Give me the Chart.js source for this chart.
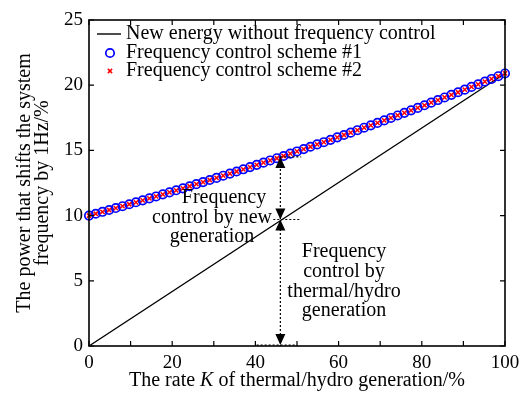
<!DOCTYPE html>
<html>
<head>
<meta charset="utf-8">
<script src="https://cdn.jsdelivr.net/npm/chart.js@4/dist/chart.umd.min.js"></script>
<style>
  html, body { margin: 0; padding: 0; background: #fff; }
  #wrap { width: 528px; height: 394px; }
</style>
</head>
<body>
<div id="wrap"><canvas id="c" width="528" height="394"></canvas></div>
<script>
// Share K of thermal/hydro generation (%)
const rateK = [0, 1.61, 3.23, 4.84, 6.45, 8.06, 9.68, 11.29, 12.90, 14.52, 16.13, 17.74, 19.35, 20.97,
  22.58, 24.19, 25.81, 27.42, 29.03, 30.65, 32.26, 33.87, 35.48, 37.10, 38.71, 40.32, 41.94, 43.55,
  45.16, 46.77, 48.39, 50.00, 51.61, 53.23, 54.84, 56.45, 58.06, 59.68, 61.29, 62.90, 64.52, 66.13,
  67.74, 69.35, 70.97, 72.58, 74.19, 75.81, 77.42, 79.03, 80.65, 82.26, 83.87, 85.48, 87.10, 88.71,
  90.32, 91.94, 93.55, 95.16, 96.77, 98.39, 100];

// Power that shifts the system frequency by 1 Hz (%), scheme #1
const scheme1Power = [10.00, 10.14, 10.29, 10.43, 10.58, 10.72, 10.87, 11.02, 11.17, 11.32, 11.47, 11.63,
  11.78, 11.94, 12.09, 12.25, 12.41, 12.57, 12.73, 12.89, 13.06, 13.22, 13.38, 13.55, 13.72, 13.89,
  14.06, 14.23, 14.40, 14.57, 14.75, 14.92, 15.10, 15.28, 15.46, 15.63, 15.81, 16.00, 16.18, 16.36,
  16.55, 16.74, 16.92, 17.11, 17.30, 17.49, 17.68, 17.88, 18.07, 18.26, 18.46, 18.66, 18.86, 19.06,
  19.26, 19.46, 19.66, 19.87, 20.07, 20.28, 20.48, 20.69, 20.90];

// Scheme #2 (coincides with scheme #1)
const scheme2Power = [10.00, 10.14, 10.29, 10.43, 10.58, 10.72, 10.87, 11.02, 11.17, 11.32, 11.47, 11.63,
  11.78, 11.94, 12.09, 12.25, 12.41, 12.57, 12.73, 12.89, 13.06, 13.22, 13.38, 13.55, 13.72, 13.89,
  14.06, 14.23, 14.40, 14.57, 14.75, 14.92, 15.10, 15.28, 15.46, 15.63, 15.81, 16.00, 16.18, 16.36,
  16.55, 16.74, 16.92, 17.11, 17.30, 17.49, 17.68, 17.88, 18.07, 18.26, 18.46, 18.66, 18.86, 19.06,
  19.26, 19.46, 19.66, 19.87, 20.07, 20.28, 20.48, 20.69, 20.90];

// New energy without frequency control
const noControlK = [0, 100];
const noControlPower = [0, 20.9];

// Axis ticks
const xTickLabels = [0, 20, 40, 60, 80, 100];
const yTickLabels = [0, 5, 10, 15, 20, 25];

// Marked split at K = 46 %
const splitK = 46;
const splitUpper = 14.5;
const splitLower = 9.7;

const SERIF = '"Liberation Serif", "Times New Roman", serif';

function pairs(xs, ys) { return xs.map((x, i) => ({ x: x, y: ys[i] })); }

const overlay = {
  id: 'overlay',
  afterDraw(chart) {
    const ctx = chart.ctx;
    const a = chart.chartArea;
    const xs = chart.scales.x, ys = chart.scales.y;
    const px = v => xs.getPixelForValue(v);
    const py = v => ys.getPixelForValue(v);
    ctx.save();

    // frame
    ctx.strokeStyle = '#000';
    ctx.lineWidth = 1.6;
    ctx.strokeRect(a.left, a.top, a.right - a.left, a.bottom - a.top);

    // inward ticks on all four sides
    ctx.lineWidth = 1.2;
    ctx.beginPath();
    xs.ticks.forEach(t => {
      const x = px(t.value);
      ctx.moveTo(x, a.bottom); ctx.lineTo(x, a.bottom - 5);
      ctx.moveTo(x, a.top); ctx.lineTo(x, a.top + 5);
    });
    ys.ticks.forEach(t => {
      const y = py(t.value);
      ctx.moveTo(a.left, y); ctx.lineTo(a.left + 5, y);
      ctx.moveTo(a.right, y); ctx.lineTo(a.right - 5, y);
    });
    ctx.stroke();

    // dotted guides at the split
    const sx = px(splitK);
    ctx.setLineDash([2, 2]);
    ctx.lineWidth = 1.2;
    ctx.beginPath();
    ctx.moveTo(sx, py(splitUpper)); ctx.lineTo(sx, py(0));
    ctx.moveTo(sx, py(splitUpper)); ctx.lineTo(px(51), py(splitUpper));
    ctx.moveTo(px(44.3), py(splitLower)); ctx.lineTo(px(51), py(splitLower));
    ctx.moveTo(px(40.3), py(0) - 1); ctx.lineTo(px(50), py(0) - 1);
    ctx.stroke();
    ctx.setLineDash([]);

    // arrowheads
    function head(x, tipY, dir) { // dir -1: points up, +1: points down
      ctx.beginPath();
      ctx.moveTo(x, tipY);
      ctx.lineTo(x - 5, tipY - dir * 11);
      ctx.lineTo(x + 5, tipY - dir * 11);
      ctx.closePath();
      ctx.fillStyle = '#000';
      ctx.fill();
    }
    head(sx, py(splitUpper), -1);
    head(sx, py(splitLower), 1);
    head(sx, py(splitLower), -1);
    head(sx, py(0) - 1, 1);

    // region labels
    ctx.fillStyle = '#000';
    ctx.font = '20px ' + SERIF;
    ctx.textAlign = 'center';
    ctx.textBaseline = 'middle';
    [['Frequency', 224, 198], ['control by new', 212, 218], ['generation', 212, 237]]
      .forEach(([t, x, y]) => ctx.fillText(t, x, y));
    [['Frequency', 344, 252], ['control by', 344, 272], ['thermal/hydro', 344, 292], ['generation', 344, 311]]
      .forEach(([t, x, y]) => ctx.fillText(t, x, y));

    // legend
    const ds = chart.data.datasets;
    const lx = a.left + 8, rows = [34, 53, 71];
    ctx.textAlign = 'left';
    ds.forEach((d, i) => {
      const y = rows[i];
      ctx.strokeStyle = d.borderColor;
      if (d.showLine) {
        ctx.lineWidth = 1.4;
        ctx.beginPath(); ctx.moveTo(lx, y); ctx.lineTo(lx + 24, y); ctx.stroke();
      } else {
        ctx.lineWidth = d.borderWidth;
        ctx.beginPath();
        const cx = lx + 13, r = d.pointRadius;
        if (d.pointStyle === 'circle') {
          ctx.arc(cx, y, r, 0, Math.PI * 2);
        } else {
          const s = r * Math.SQRT1_2;
          ctx.moveTo(cx - s, y - s); ctx.lineTo(cx + s, y + s);
          ctx.moveTo(cx + s, y - s); ctx.lineTo(cx - s, y + s);
        }
        ctx.stroke();
      }
      ctx.fillStyle = '#000';
      ctx.font = '20px ' + SERIF;
      ctx.fillText(d.label, lx + 29, y);
    });

    // x axis title with italic K
    const cx = (a.left + a.right) / 2, ty = 381;
    const p1 = 'The rate ', p2 = 'K', p3 = ' of thermal/hydro generation/%';
    ctx.font = '20px ' + SERIF;
    const w1 = ctx.measureText(p1).width, w3 = ctx.measureText(p3).width;
    ctx.font = 'italic 20px ' + SERIF;
    const w2 = ctx.measureText(p2).width;
    const x0 = cx - (w1 + w2 + w3) / 2;
    ctx.textAlign = 'left';
    ctx.font = '20px ' + SERIF; ctx.fillText(p1, x0, ty);
    ctx.font = 'italic 20px ' + SERIF; ctx.fillText(p2, x0 + w1, ty);
    ctx.font = '20px ' + SERIF; ctx.fillText(p3, x0 + w1 + w2, ty);

    // y axis title, two rotated lines
    ctx.save();
    ctx.translate(25, (a.top + a.bottom) / 2);
    ctx.rotate(-Math.PI / 2);
    ctx.textAlign = 'center';
    ctx.fillText('The power that shifts the system', 0, 0);
    ctx.fillText('frequency by 1Hz/%', 0, 18);
    ctx.restore();

    ctx.restore();
  }
};

new Chart(document.getElementById('c'), {
  type: 'scatter',
  data: {
    datasets: [
      {
        label: 'New energy without frequency control',
        data: pairs(noControlK, noControlPower),
        showLine: true, borderColor: '#000000', borderWidth: 1.3,
        pointRadius: 0, order: 2
      },
      {
        label: 'Frequency control scheme #1',
        data: pairs(rateK, scheme1Power),
        showLine: false, pointStyle: 'circle', pointRadius: 4.2, clip: false,
        borderColor: '#0000ff', backgroundColor: 'rgba(0,0,0,0)', borderWidth: 1.7, order: 1
      },
      {
        label: 'Frequency control scheme #2',
        data: pairs(rateK, scheme2Power),
        showLine: false, pointStyle: 'crossRot', pointRadius: 3, clip: false,
        borderColor: '#ff0000', backgroundColor: '#ff0000', borderWidth: 1.5, order: 0
      }
    ]
  },
  options: {
    responsive: false,
    animation: false,
    devicePixelRatio: 1,
    layout: { padding: { left: 0, right: 23, top: 20, bottom: 0 } },
    plugins: { legend: { display: false }, tooltip: { enabled: false } },
    scales: {
      x: {
        type: 'linear', min: 0, max: 100,
        grid: { display: false, drawTicks: false },
        border: { display: false },
        ticks: {
          stepSize: 10, autoSkip: false, maxRotation: 0, padding: 6,
          color: '#000', font: { family: SERIF, size: 19 },
          callback: v => xTickLabels.includes(v) ? String(v) : ''
        },
        afterFit: s => { s.height = 48; }
      },
      y: {
        type: 'linear', min: 0, max: 25,
        grid: { display: false, drawTicks: false },
        border: { display: false },
        ticks: {
          stepSize: 5, autoSkip: false, padding: 6,
          color: '#000', font: { family: SERIF, size: 19 },
          callback: v => yTickLabels.includes(v) ? String(v) : ''
        },
        afterFit: s => { s.width = 89; }
      }
    }
  },
  plugins: [overlay]
});
</script>
</body>
</html>
